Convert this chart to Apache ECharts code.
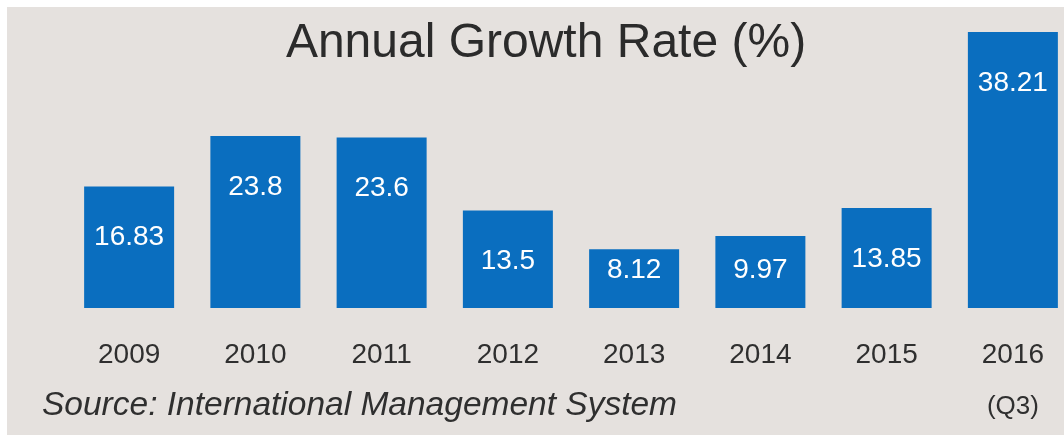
<!DOCTYPE html>
<html>
<head>
<meta charset="utf-8">
<script src="https://cdn.jsdelivr.net/npm/echarts@6/dist/echarts.min.js"></script>
<style>
  html, body { margin: 0; padding: 0; background: #ffffff; width: 1064px; height: 435px; overflow: hidden; }
  #wrap { position: absolute; left: 7px; top: 7px; width: 1057px; height: 428px; overflow: hidden; background: #e5e1de; }
  #chart { position: absolute; left: 0; top: 0; width: 1090px; height: 428px; }
</style>
</head>
<body>
<div id="wrap"><div id="chart"></div></div>
<script>
const titleText = 'Annual Growth Rate (%)';
const sourceText = 'Source: International Management System';
const categories = ['2009', '2010', '2011', '2012', '2013', '2014', '2015', '2016'];
const categoryNotes = ['', '', '', '', '', '', '', '(Q3)'];
const growthRates = [16.83, 23.8, 23.6, 13.5, 8.12, 9.97, 13.85, 38.21];

const Y_MAX = 40;
const GRID_HEIGHT = 289;
const PX_PER_UNIT = GRID_HEIGHT / Y_MAX;

const chart = echarts.init(document.getElementById('chart'), null, { renderer: 'canvas' });

const seriesData = growthRates.map(function (v) {
  const barH = v * PX_PER_UNIT;
  const off = Math.min(51, barH - 38);
  return {
    value: v,
    label: { position: ['50%', off] }
  };
});

chart.setOption({
  backgroundColor: '#e5e1de',
  animation: false,
  title: {
    text: titleText,
    left: 534,
    top: 7,
    textAlign: 'center',
    textStyle: {
      fontFamily: 'Liberation Sans, Arial, sans-serif',
      fontSize: 48,
      fontWeight: 'normal',
      color: '#2b2b2b',
      lineHeight: 50
    }
  },
  graphic: [{
    type: 'text',
    left: 35,
    top: 382,
    style: {
      text: sourceText,
      font: 'italic 33.5px "Liberation Sans", Arial, sans-serif',
      fill: '#2f2f2f'
    }
  }],
  grid: { left: 59, top: 12, width: 1010, height: GRID_HEIGHT, containLabel: false, outerBoundsMode: 'none' },
  xAxis: {
    type: 'category',
    data: categories,
    axisLine: { show: false },
    axisTick: { show: false },
    axisLabel: {
      interval: 0,
      margin: 33,
      fontFamily: 'Liberation Sans, Arial, sans-serif',
      fontSize: 28,
      lineHeight: 28,
      color: '#2f2f2f',
      formatter: function (val, idx) {
        const note = categoryNotes[idx];
        return note ? val + '\n{q|' + note + '}' : val;
      },
      rich: {
        q: {
          fontFamily: 'Liberation Sans, Arial, sans-serif',
          fontSize: 26,
          lineHeight: 76,
          color: '#2f2f2f'
        }
      }
    }
  },
  yAxis: {
    type: 'value',
    min: 0,
    max: Y_MAX,
    show: false,
    splitLine: { show: false }
  },
  series: [{
    type: 'bar',
    data: seriesData,
    barWidth: 90,
    itemStyle: { color: '#0a6ebf' },
    label: {
      show: true,
      color: '#ffffff',
      fontFamily: 'Liberation Sans, Arial, sans-serif',
      fontSize: 28,
      align: 'center',
      verticalAlign: 'middle'
    }
  }]
});
</script>
</body>
</html>
